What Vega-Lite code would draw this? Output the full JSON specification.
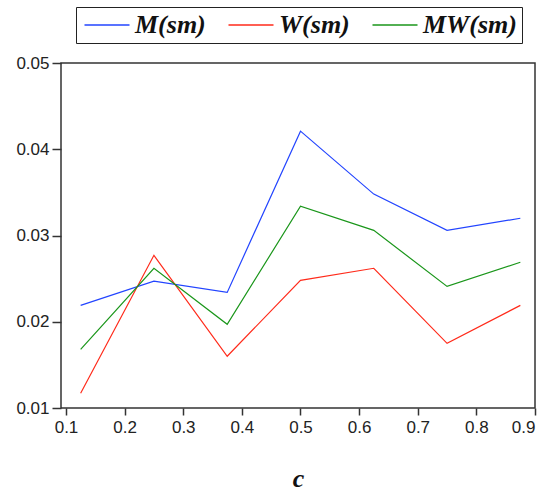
{
  "$schema": "https://vega.github.io/schema/vega-lite/v6.json",
  "autosize": {"type": "none"},
  "width": 474,
  "height": 345,
  "padding": {"left": 61, "top": 63, "right": 13, "bottom": 85},
  "background": "white",
  "config": {
    "view": {"stroke": "#333333", "strokeWidth": 1.5},
    "axis": {
      "domain": false,
      "grid": false,
      "labelFont": "Liberation Sans",
      "labelFontSize": 17,
      "labelColor": "#222222",
      "tickColor": "#333333",
      "tickWidth": 1.5
    }
  },
  "data": {
    "values": [
      {"c": 0.125, "series": "M(sm)", "value": 0.0219},
      {"c": 0.25, "series": "M(sm)", "value": 0.0247},
      {"c": 0.375, "series": "M(sm)", "value": 0.0234},
      {"c": 0.5, "series": "M(sm)", "value": 0.0421},
      {"c": 0.625, "series": "M(sm)", "value": 0.0348},
      {"c": 0.75, "series": "M(sm)", "value": 0.0306},
      {"c": 0.875, "series": "M(sm)", "value": 0.0320},
      {"c": 0.125, "series": "W(sm)", "value": 0.0117},
      {"c": 0.25, "series": "W(sm)", "value": 0.0277},
      {"c": 0.375, "series": "W(sm)", "value": 0.0160},
      {"c": 0.5, "series": "W(sm)", "value": 0.0248},
      {"c": 0.625, "series": "W(sm)", "value": 0.0262},
      {"c": 0.75, "series": "W(sm)", "value": 0.0175},
      {"c": 0.875, "series": "W(sm)", "value": 0.0219},
      {"c": 0.125, "series": "MW(sm)", "value": 0.0168},
      {"c": 0.25, "series": "MW(sm)", "value": 0.0262},
      {"c": 0.375, "series": "MW(sm)", "value": 0.0197},
      {"c": 0.5, "series": "MW(sm)", "value": 0.0334},
      {"c": 0.625, "series": "MW(sm)", "value": 0.0306},
      {"c": 0.75, "series": "MW(sm)", "value": 0.0241},
      {"c": 0.875, "series": "MW(sm)", "value": 0.0269}
    ]
  },
  "mark": {"type": "line", "strokeWidth": 1.2},
  "encoding": {
    "x": {
      "field": "c",
      "type": "quantitative",
      "scale": {"domain": [0.0915, 0.9], "nice": false, "zero": false},
      "axis": {
        "values": [0.1, 0.2, 0.3, 0.4, 0.5, 0.6, 0.7, 0.8, 0.9],
        "format": ".1f",
        "tickSize": 7,
        "labelPadding": 4,
        "title": "c",
        "titleFont": "Liberation Serif",
        "titleFontSize": 26,
        "titleFontWeight": "bold",
        "titleFontStyle": "italic",
        "titleColor": "#111111",
        "titlePadding": 30
      }
    },
    "y": {
      "field": "value",
      "type": "quantitative",
      "scale": {"domain": [0.01, 0.05], "nice": false, "zero": false},
      "axis": {
        "values": [0.01, 0.02, 0.03, 0.04, 0.05],
        "format": ".2f",
        "tickSize": 9,
        "labelPadding": 3,
        "title": null
      }
    },
    "color": {
      "field": "series",
      "type": "nominal",
      "scale": {
        "domain": ["M(sm)", "W(sm)", "MW(sm)"],
        "range": ["#2244ff", "#ff2a1a", "#1a961a"]
      },
      "legend": {
        "title": null,
        "orient": "none",
        "direction": "horizontal",
        "columns": 3,
        "legendX": 15,
        "legendY": -56,
        "padding": 5,
        "fillColor": "white",
        "strokeColor": "#222222",
        "symbolType": "M-3,0H3",
        "symbolSize": 225,
        "symbolStrokeWidth": 1.5,
        "symbolOffset": 13,
        "labelOffset": 15,
        "columnPadding": 19,
        "labelFont": "Liberation Serif",
        "labelFontSize": 26,
        "labelFontWeight": "bold",
        "labelFontStyle": "italic",
        "labelColor": "#111111"
      }
    }
  }
}
